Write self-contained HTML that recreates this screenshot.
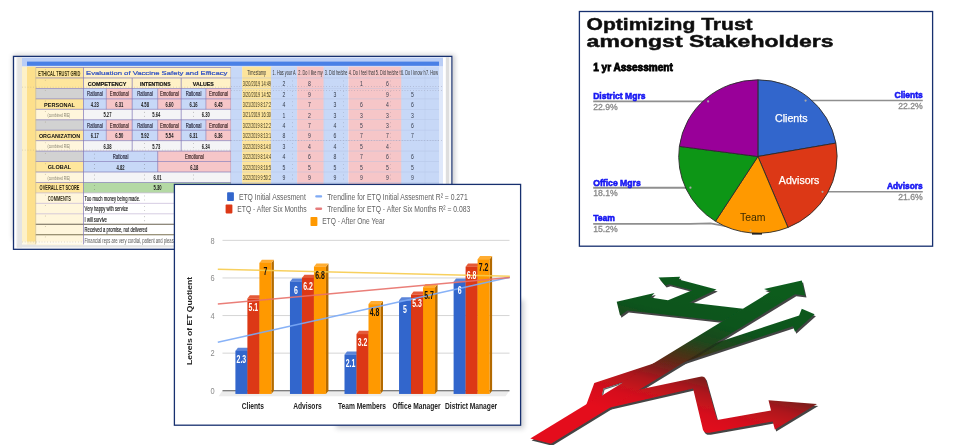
<!DOCTYPE html>
<html><head><meta charset="utf-8"><title>Trust dashboard</title>
<style>
html,body{margin:0;padding:0;background:#fff;}
body{width:980px;height:445px;overflow:hidden;font-family:"Liberation Sans",sans-serif;}
svg{display:block;font-family:"Liberation Sans",sans-serif;}
</style></head><body>
<svg width="980" height="445" viewBox="0 0 980 445">
<defs>
<filter id="b3" x="-5%" y="-5%" width="110%" height="110%"><feGaussianBlur stdDeviation="0.3"/></filter>
<filter id="b5" x="-5%" y="-5%" width="110%" height="110%"><feGaussianBlur stdDeviation="0.5"/></filter>
<filter id="b7" x="-5%" y="-5%" width="110%" height="110%"><feGaussianBlur stdDeviation="0.7"/></filter>
<filter id="sh" x="-10%" y="-10%" width="125%" height="125%"><feGaussianBlur stdDeviation="2.4"/></filter>
<filter id="ash" x="-10%" y="-10%" width="125%" height="125%"><feGaussianBlur stdDeviation="0.65"/></filter>
</defs>
<rect x="13.0" y="54.9" width="441.8" height="184.9" fill="#3a4050" opacity="0.27" filter="url(#sh)"/>
<rect x="13.50" y="56.40" width="438.30" height="192.90" fill="#ffffff" stroke="#17306f" stroke-width="1.3"/>
<g filter="url(#b5)">
<linearGradient id="gl" x1="0" x2="1"><stop offset="0" stop-color="#fff"/><stop offset="0.55" stop-color="#e9e9e9"/><stop offset="1" stop-color="#f6f6f6"/></linearGradient>
<rect x="17.00" y="57.20" width="5.00" height="190.30" fill="#e3e3e3" />
<rect x="16.20" y="57.20" width="1.20" height="190.30" fill="#f0f0f0" />
<rect x="445.80" y="57.20" width="3.40" height="190.30" fill="#dedede" />
<rect x="449.00" y="57.20" width="2.20" height="191.40" fill="#f4f4f4" />
<rect x="17.00" y="244.30" width="432.00" height="3.20" fill="#e3e3e3" />
<rect x="22.00" y="57.60" width="421.00" height="9.00" fill="#b9cdf6" />
<rect x="27.00" y="61.60" width="412.00" height="4.20" fill="#4a80e6" />
<rect x="22.00" y="66.60" width="5.00" height="177.70" fill="#fdf1c7" />
<rect x="27.00" y="66.60" width="8.70" height="177.70" fill="#fde08c" />
<rect x="35.70" y="66.60" width="195.40" height="2.00" fill="#fff1c6" />
<rect x="35.70" y="67.50" width="47.80" height="10.45" fill="#fee69c" />
<rect x="83.50" y="67.50" width="147.60" height="10.45" fill="#fff1c6" />
<rect x="35.70" y="77.95" width="47.80" height="10.45" fill="#fee69c" />
<rect x="83.50" y="77.95" width="147.60" height="10.45" fill="#fff1c6" />
<rect x="35.70" y="88.40" width="47.80" height="10.45" fill="#d2d2d2" />
<rect x="83.50" y="88.40" width="22.80" height="10.45" fill="#c7d8f7" />
<rect x="106.30" y="88.40" width="25.90" height="10.45" fill="#f6c6c8" />
<rect x="132.20" y="88.40" width="25.50" height="10.45" fill="#c7d8f7" />
<rect x="157.70" y="88.40" width="23.50" height="10.45" fill="#f6c6c8" />
<rect x="181.20" y="88.40" width="24.70" height="10.45" fill="#c7d8f7" />
<rect x="205.90" y="88.40" width="25.20" height="10.45" fill="#f6c6c8" />
<rect x="35.70" y="119.75" width="47.80" height="10.45" fill="#d2d2d2" />
<rect x="83.50" y="119.75" width="22.80" height="10.45" fill="#c7d8f7" />
<rect x="106.30" y="119.75" width="25.90" height="10.45" fill="#f6c6c8" />
<rect x="132.20" y="119.75" width="25.50" height="10.45" fill="#c7d8f7" />
<rect x="157.70" y="119.75" width="23.50" height="10.45" fill="#f6c6c8" />
<rect x="181.20" y="119.75" width="24.70" height="10.45" fill="#c7d8f7" />
<rect x="205.90" y="119.75" width="25.20" height="10.45" fill="#f6c6c8" />
<rect x="35.70" y="98.85" width="47.80" height="10.45" fill="#fee69c" />
<rect x="83.50" y="98.85" width="22.80" height="10.45" fill="#c7d8f7" />
<rect x="106.30" y="98.85" width="25.90" height="10.45" fill="#f6c6c8" />
<rect x="132.20" y="98.85" width="25.50" height="10.45" fill="#c7d8f7" />
<rect x="157.70" y="98.85" width="23.50" height="10.45" fill="#f6c6c8" />
<rect x="181.20" y="98.85" width="24.70" height="10.45" fill="#c7d8f7" />
<rect x="205.90" y="98.85" width="25.20" height="10.45" fill="#f6c6c8" />
<rect x="35.70" y="130.20" width="47.80" height="10.45" fill="#fee69c" />
<rect x="83.50" y="130.20" width="22.80" height="10.45" fill="#c7d8f7" />
<rect x="106.30" y="130.20" width="25.90" height="10.45" fill="#f6c6c8" />
<rect x="132.20" y="130.20" width="25.50" height="10.45" fill="#c7d8f7" />
<rect x="157.70" y="130.20" width="23.50" height="10.45" fill="#f6c6c8" />
<rect x="181.20" y="130.20" width="24.70" height="10.45" fill="#c7d8f7" />
<rect x="205.90" y="130.20" width="25.20" height="10.45" fill="#f6c6c8" />
<rect x="35.70" y="109.30" width="47.80" height="10.45" fill="#fff6dc" />
<rect x="83.50" y="109.30" width="147.60" height="10.45" fill="#f4f4f6" />
<rect x="35.70" y="140.65" width="47.80" height="10.45" fill="#fff6dc" />
<rect x="83.50" y="140.65" width="147.60" height="10.45" fill="#f4f4f6" />
<rect x="35.70" y="172.00" width="47.80" height="10.45" fill="#fff6dc" />
<rect x="83.50" y="172.00" width="147.60" height="10.45" fill="#f4f4f6" />
<rect x="35.70" y="151.10" width="47.80" height="10.45" fill="#d2d2d2" />
<rect x="83.50" y="151.10" width="74.20" height="10.45" fill="#c7d8f7" />
<rect x="157.70" y="151.10" width="73.40" height="10.45" fill="#f6c6c8" />
<rect x="35.70" y="161.55" width="47.80" height="10.45" fill="#fee69c" />
<rect x="83.50" y="161.55" width="74.20" height="10.45" fill="#c7d8f7" />
<rect x="157.70" y="161.55" width="73.40" height="10.45" fill="#f6c6c8" />
<rect x="35.70" y="182.45" width="47.80" height="10.45" fill="#fee69c" />
<rect x="83.50" y="182.45" width="147.60" height="10.45" fill="#b4d9a4" />
<rect x="35.70" y="192.90" width="47.80" height="10.45" fill="#fff6dc" />
<rect x="83.50" y="192.90" width="147.60" height="10.45" fill="#ffffff" />
<rect x="35.70" y="203.35" width="47.80" height="10.45" fill="#fff6dc" />
<rect x="83.50" y="203.35" width="147.60" height="10.45" fill="#ffffff" />
<rect x="35.70" y="213.80" width="47.80" height="10.45" fill="#fff6dc" />
<rect x="83.50" y="213.80" width="147.60" height="10.45" fill="#ffffff" />
<rect x="35.70" y="224.25" width="47.80" height="10.45" fill="#fff6dc" />
<rect x="83.50" y="224.25" width="147.60" height="10.45" fill="#ffffff" />
<rect x="35.70" y="234.70" width="47.80" height="10.45" fill="#fff6dc" />
<rect x="83.50" y="234.70" width="147.60" height="10.45" fill="#ffffff" />
<rect x="22.00" y="241.50" width="421.00" height="2.80" fill="#ffffff" opacity="0.55"/>
<line x1="35.70" y1="67.50" x2="231.10" y2="67.50" stroke="#7f76b6" stroke-width="0.8" opacity="0.85"/>
<line x1="35.70" y1="77.95" x2="231.10" y2="77.95" stroke="#7f76b6" stroke-width="0.8" opacity="0.85"/>
<line x1="35.70" y1="88.40" x2="231.10" y2="88.40" stroke="#7f76b6" stroke-width="0.8" opacity="0.85"/>
<line x1="35.70" y1="98.85" x2="231.10" y2="98.85" stroke="#7f76b6" stroke-width="0.8" opacity="0.85"/>
<line x1="35.70" y1="109.30" x2="231.10" y2="109.30" stroke="#7f76b6" stroke-width="0.8" opacity="0.85"/>
<line x1="35.70" y1="119.75" x2="231.10" y2="119.75" stroke="#7f76b6" stroke-width="0.8" opacity="0.85"/>
<line x1="35.70" y1="130.20" x2="231.10" y2="130.20" stroke="#7f76b6" stroke-width="0.8" opacity="0.85"/>
<line x1="35.70" y1="140.65" x2="231.10" y2="140.65" stroke="#7f76b6" stroke-width="0.8" opacity="0.85"/>
<line x1="35.70" y1="151.10" x2="231.10" y2="151.10" stroke="#7f76b6" stroke-width="0.8" opacity="0.85"/>
<line x1="35.70" y1="161.55" x2="231.10" y2="161.55" stroke="#7f76b6" stroke-width="0.8" opacity="0.85"/>
<line x1="35.70" y1="172.00" x2="231.10" y2="172.00" stroke="#7f76b6" stroke-width="0.8" opacity="0.85"/>
<line x1="35.70" y1="182.45" x2="231.10" y2="182.45" stroke="#7f76b6" stroke-width="0.8" opacity="0.85"/>
<line x1="35.70" y1="192.90" x2="231.10" y2="192.90" stroke="#b9a9cf" stroke-width="0.6" />
<line x1="35.70" y1="203.35" x2="231.10" y2="203.35" stroke="#b9a9cf" stroke-width="0.6" />
<line x1="35.70" y1="213.80" x2="231.10" y2="213.80" stroke="#b9a9cf" stroke-width="0.6" />
<line x1="35.70" y1="224.25" x2="175.00" y2="224.25" stroke="#6a6250" stroke-width="1.1" />
<line x1="35.70" y1="234.70" x2="175.00" y2="234.70" stroke="#7a7050" stroke-width="1.1" />
<line x1="35.70" y1="67.50" x2="35.70" y2="244.30" stroke="#c8b47a" stroke-width="0.6" />
<line x1="83.50" y1="67.50" x2="83.50" y2="244.30" stroke="#7f76b6" stroke-width="0.7" />
<line x1="132.20" y1="77.95" x2="132.20" y2="151.10" stroke="#7f76b6" stroke-width="0.7" />
<line x1="181.20" y1="77.95" x2="181.20" y2="151.10" stroke="#7f76b6" stroke-width="0.7" />
<line x1="106.30" y1="88.40" x2="106.30" y2="98.85" stroke="#7f76b6" stroke-width="0.6" />
<line x1="106.30" y1="98.85" x2="106.30" y2="109.30" stroke="#7f76b6" stroke-width="0.6" />
<line x1="106.30" y1="119.75" x2="106.30" y2="130.20" stroke="#7f76b6" stroke-width="0.6" />
<line x1="106.30" y1="130.20" x2="106.30" y2="140.65" stroke="#7f76b6" stroke-width="0.6" />
<line x1="157.70" y1="88.40" x2="157.70" y2="98.85" stroke="#7f76b6" stroke-width="0.6" />
<line x1="157.70" y1="98.85" x2="157.70" y2="109.30" stroke="#7f76b6" stroke-width="0.6" />
<line x1="157.70" y1="119.75" x2="157.70" y2="130.20" stroke="#7f76b6" stroke-width="0.6" />
<line x1="157.70" y1="130.20" x2="157.70" y2="140.65" stroke="#7f76b6" stroke-width="0.6" />
<line x1="205.90" y1="88.40" x2="205.90" y2="98.85" stroke="#7f76b6" stroke-width="0.6" />
<line x1="205.90" y1="98.85" x2="205.90" y2="109.30" stroke="#7f76b6" stroke-width="0.6" />
<line x1="205.90" y1="119.75" x2="205.90" y2="130.20" stroke="#7f76b6" stroke-width="0.6" />
<line x1="205.90" y1="130.20" x2="205.90" y2="140.65" stroke="#7f76b6" stroke-width="0.6" />
<line x1="157.70" y1="151.10" x2="157.70" y2="172.00" stroke="#7f76b6" stroke-width="0.7" />
<line x1="231.10" y1="67.50" x2="231.10" y2="192.90" stroke="#7f76b6" stroke-width="0.7" />
<line x1="22.00" y1="87.20" x2="231.00" y2="87.20" stroke="#b0a890" stroke-width="0.6" stroke-dasharray="0.8 2" opacity="0.8"/>
<line x1="22.00" y1="150.10" x2="231.00" y2="150.10" stroke="#b0a890" stroke-width="0.6" stroke-dasharray="0.8 2" opacity="0.8"/>
<line x1="22.00" y1="242.00" x2="231.00" y2="242.00" stroke="#b0a890" stroke-width="0.6" stroke-dasharray="0.8 2" opacity="0.8"/>
<circle cx="45.3" cy="69.70" r="0.45" fill="#8a8060" opacity="0.7"/>
<circle cx="45.3" cy="80.15" r="0.45" fill="#8a8060" opacity="0.7"/>
<circle cx="45.3" cy="90.60" r="0.45" fill="#8a8060" opacity="0.7"/>
<circle cx="45.3" cy="101.05" r="0.45" fill="#8a8060" opacity="0.7"/>
<circle cx="45.3" cy="111.50" r="0.45" fill="#8a8060" opacity="0.7"/>
<circle cx="45.3" cy="121.95" r="0.45" fill="#8a8060" opacity="0.7"/>
<circle cx="45.3" cy="132.40" r="0.45" fill="#8a8060" opacity="0.7"/>
<circle cx="45.3" cy="142.85" r="0.45" fill="#8a8060" opacity="0.7"/>
<circle cx="45.3" cy="153.30" r="0.45" fill="#8a8060" opacity="0.7"/>
<circle cx="45.3" cy="163.75" r="0.45" fill="#8a8060" opacity="0.7"/>
<circle cx="45.3" cy="174.20" r="0.45" fill="#8a8060" opacity="0.7"/>
<circle cx="45.3" cy="184.65" r="0.45" fill="#8a8060" opacity="0.7"/>
<circle cx="45.3" cy="195.10" r="0.45" fill="#8a8060" opacity="0.7"/>
<circle cx="45.3" cy="205.55" r="0.45" fill="#8a8060" opacity="0.7"/>
<circle cx="45.3" cy="216.00" r="0.45" fill="#8a8060" opacity="0.7"/>
<circle cx="45.3" cy="226.45" r="0.45" fill="#8a8060" opacity="0.7"/>
<circle cx="45.3" cy="236.90" r="0.45" fill="#8a8060" opacity="0.7"/>
<circle cx="144.4" cy="112.30" r="0.45" fill="#666" opacity="0.75"/>
<circle cx="144.4" cy="116.30" r="0.45" fill="#666" opacity="0.75"/>
<circle cx="193.5" cy="112.30" r="0.45" fill="#666" opacity="0.75"/>
<circle cx="193.5" cy="116.30" r="0.45" fill="#666" opacity="0.75"/>
<circle cx="144.4" cy="143.65" r="0.45" fill="#666" opacity="0.75"/>
<circle cx="144.4" cy="147.65" r="0.45" fill="#666" opacity="0.75"/>
<circle cx="193.5" cy="143.65" r="0.45" fill="#666" opacity="0.75"/>
<circle cx="193.5" cy="147.65" r="0.45" fill="#666" opacity="0.75"/>
<circle cx="94.4" cy="154.10" r="0.45" fill="#666" opacity="0.75"/>
<circle cx="94.4" cy="158.10" r="0.45" fill="#666" opacity="0.75"/>
<circle cx="193.5" cy="154.10" r="0.45" fill="#666" opacity="0.75"/>
<circle cx="193.5" cy="158.10" r="0.45" fill="#666" opacity="0.75"/>
<circle cx="144.4" cy="154.10" r="0.45" fill="#666" opacity="0.75"/>
<circle cx="144.4" cy="158.10" r="0.45" fill="#666" opacity="0.75"/>
<circle cx="94.4" cy="164.55" r="0.45" fill="#666" opacity="0.75"/>
<circle cx="94.4" cy="168.55" r="0.45" fill="#666" opacity="0.75"/>
<circle cx="193.5" cy="164.55" r="0.45" fill="#666" opacity="0.75"/>
<circle cx="193.5" cy="168.55" r="0.45" fill="#666" opacity="0.75"/>
<circle cx="144.4" cy="164.55" r="0.45" fill="#666" opacity="0.75"/>
<circle cx="144.4" cy="168.55" r="0.45" fill="#666" opacity="0.75"/>
<circle cx="94.4" cy="175.00" r="0.45" fill="#666" opacity="0.75"/>
<circle cx="94.4" cy="179.00" r="0.45" fill="#666" opacity="0.75"/>
<circle cx="193.5" cy="175.00" r="0.45" fill="#666" opacity="0.75"/>
<circle cx="193.5" cy="179.00" r="0.45" fill="#666" opacity="0.75"/>
<circle cx="144.4" cy="175.00" r="0.45" fill="#666" opacity="0.75"/>
<circle cx="144.4" cy="179.00" r="0.45" fill="#666" opacity="0.75"/>
<circle cx="94.4" cy="185.45" r="0.45" fill="#666" opacity="0.75"/>
<circle cx="94.4" cy="189.45" r="0.45" fill="#666" opacity="0.75"/>
<circle cx="193.5" cy="185.45" r="0.45" fill="#666" opacity="0.75"/>
<circle cx="193.5" cy="189.45" r="0.45" fill="#666" opacity="0.75"/>
<circle cx="144.6" cy="195.90" r="0.45" fill="#666" opacity="0.75"/>
<circle cx="144.6" cy="199.90" r="0.45" fill="#666" opacity="0.75"/>
<circle cx="144.6" cy="206.35" r="0.45" fill="#666" opacity="0.75"/>
<circle cx="144.6" cy="210.35" r="0.45" fill="#666" opacity="0.75"/>
<circle cx="144.6" cy="216.80" r="0.45" fill="#666" opacity="0.75"/>
<circle cx="144.6" cy="220.80" r="0.45" fill="#666" opacity="0.75"/>
<text x="38.30" y="75.80" font-size="7" fill="#3a3210" font-weight="bold" text-anchor="start" textLength="42" lengthAdjust="spacingAndGlyphs" >ETHICAL TRUST GRID</text>
<text x="86.00" y="74.80" font-size="5.9" fill="#2d4fc4" font-weight="normal" text-anchor="start" textLength="141.4" lengthAdjust="spacingAndGlyphs" stroke="#2d4fc4" stroke-width="0.2">Evaluation of Vaccine Safety and Efficacy</text>
<text x="107.10" y="85.75" font-size="5.2" fill="#111" font-weight="bold" text-anchor="middle" textLength="38.8" lengthAdjust="spacingAndGlyphs" stroke="#111" stroke-width="0.15">COMPETENCY</text>
<text x="155.30" y="85.75" font-size="5.2" fill="#111" font-weight="bold" text-anchor="middle" textLength="30.4" lengthAdjust="spacingAndGlyphs" stroke="#111" stroke-width="0.15">INTENTIONS</text>
<text x="203.30" y="85.75" font-size="5.2" fill="#111" font-weight="bold" text-anchor="middle" textLength="21" lengthAdjust="spacingAndGlyphs" stroke="#111" stroke-width="0.15">VALUES</text>
<text transform="translate(94.90,96.40) scale(0.6,1)" font-size="7.1" fill="#24243a" font-weight="normal" text-anchor="middle" stroke="#24243a" stroke-width="0.18">Rational</text>
<text transform="translate(119.25,96.40) scale(0.6,1)" font-size="7.1" fill="#3a2424" font-weight="normal" text-anchor="middle" stroke="#3a2424" stroke-width="0.18">Emotional</text>
<text transform="translate(144.95,96.40) scale(0.6,1)" font-size="7.1" fill="#24243a" font-weight="normal" text-anchor="middle" stroke="#24243a" stroke-width="0.18">Rational</text>
<text transform="translate(169.45,96.40) scale(0.6,1)" font-size="7.1" fill="#3a2424" font-weight="normal" text-anchor="middle" stroke="#3a2424" stroke-width="0.18">Emotional</text>
<text transform="translate(193.55,96.40) scale(0.6,1)" font-size="7.1" fill="#24243a" font-weight="normal" text-anchor="middle" stroke="#24243a" stroke-width="0.18">Rational</text>
<text transform="translate(218.50,96.40) scale(0.6,1)" font-size="7.1" fill="#3a2424" font-weight="normal" text-anchor="middle" stroke="#3a2424" stroke-width="0.18">Emotional</text>
<text transform="translate(94.90,127.75) scale(0.6,1)" font-size="7.1" fill="#24243a" font-weight="normal" text-anchor="middle" stroke="#24243a" stroke-width="0.18">Rational</text>
<text transform="translate(119.25,127.75) scale(0.6,1)" font-size="7.1" fill="#3a2424" font-weight="normal" text-anchor="middle" stroke="#3a2424" stroke-width="0.18">Emotional</text>
<text transform="translate(144.95,127.75) scale(0.6,1)" font-size="7.1" fill="#24243a" font-weight="normal" text-anchor="middle" stroke="#24243a" stroke-width="0.18">Rational</text>
<text transform="translate(169.45,127.75) scale(0.6,1)" font-size="7.1" fill="#3a2424" font-weight="normal" text-anchor="middle" stroke="#3a2424" stroke-width="0.18">Emotional</text>
<text transform="translate(193.55,127.75) scale(0.6,1)" font-size="7.1" fill="#24243a" font-weight="normal" text-anchor="middle" stroke="#24243a" stroke-width="0.18">Rational</text>
<text transform="translate(218.50,127.75) scale(0.6,1)" font-size="7.1" fill="#3a2424" font-weight="normal" text-anchor="middle" stroke="#3a2424" stroke-width="0.18">Emotional</text>
<text transform="translate(59.50,106.65) scale(1.03,1)" font-size="5.4" fill="#111" font-weight="bold" text-anchor="middle" >PERSONAL</text>
<text transform="translate(59.50,138.00) scale(1.0,1)" font-size="5.4" fill="#111" font-weight="bold" text-anchor="middle" >ORGANIZATION</text>
<text transform="translate(59.50,169.35) scale(1.03,1)" font-size="5.4" fill="#111" font-weight="bold" text-anchor="middle" >GLOBAL</text>
<text transform="translate(39.60,190.45) scale(0.595,1)" font-size="6.6" fill="#2a2410" font-weight="bold" text-anchor="start" >OVERALL ET SCORE</text>
<text transform="translate(59.30,200.90) scale(0.6,1)" font-size="6.6" fill="#3a3420" font-weight="bold" text-anchor="middle" >COMMENTS</text>
<text x="47.60" y="117.10" font-size="5.8" fill="#85816f" font-weight="normal" text-anchor="start" textLength="22.6" lengthAdjust="spacingAndGlyphs" >(combined R/E)</text>
<text x="47.60" y="148.45" font-size="5.8" fill="#85816f" font-weight="normal" text-anchor="start" textLength="22.6" lengthAdjust="spacingAndGlyphs" >(combined R/E)</text>
<text x="47.60" y="179.80" font-size="5.8" fill="#85816f" font-weight="normal" text-anchor="start" textLength="22.6" lengthAdjust="spacingAndGlyphs" >(combined R/E)</text>
<text transform="translate(94.90,106.85) scale(0.56,1)" font-size="7.4" fill="#1a1a1a" font-weight="bold" text-anchor="middle" >4.23</text>
<text transform="translate(94.90,138.20) scale(0.56,1)" font-size="7.4" fill="#1a1a1a" font-weight="bold" text-anchor="middle" >6.17</text>
<text transform="translate(119.25,106.85) scale(0.56,1)" font-size="7.4" fill="#1a1a1a" font-weight="bold" text-anchor="middle" >6.31</text>
<text transform="translate(119.25,138.20) scale(0.56,1)" font-size="7.4" fill="#1a1a1a" font-weight="bold" text-anchor="middle" >6.50</text>
<text transform="translate(144.95,106.85) scale(0.56,1)" font-size="7.4" fill="#1a1a1a" font-weight="bold" text-anchor="middle" >4.58</text>
<text transform="translate(144.95,138.20) scale(0.56,1)" font-size="7.4" fill="#1a1a1a" font-weight="bold" text-anchor="middle" >5.92</text>
<text transform="translate(169.45,106.85) scale(0.56,1)" font-size="7.4" fill="#1a1a1a" font-weight="bold" text-anchor="middle" >6.60</text>
<text transform="translate(169.45,138.20) scale(0.56,1)" font-size="7.4" fill="#1a1a1a" font-weight="bold" text-anchor="middle" >5.54</text>
<text transform="translate(193.55,106.85) scale(0.56,1)" font-size="7.4" fill="#1a1a1a" font-weight="bold" text-anchor="middle" >6.16</text>
<text transform="translate(193.55,138.20) scale(0.56,1)" font-size="7.4" fill="#1a1a1a" font-weight="bold" text-anchor="middle" >6.31</text>
<text transform="translate(218.50,106.85) scale(0.56,1)" font-size="7.4" fill="#1a1a1a" font-weight="bold" text-anchor="middle" >6.45</text>
<text transform="translate(218.50,138.20) scale(0.56,1)" font-size="7.4" fill="#1a1a1a" font-weight="bold" text-anchor="middle" >6.36</text>
<text transform="translate(107.45,117.30) scale(0.56,1)" font-size="7.4" fill="#1a1a1a" font-weight="bold" text-anchor="middle" >5.27</text>
<text transform="translate(156.30,117.30) scale(0.56,1)" font-size="7.4" fill="#1a1a1a" font-weight="bold" text-anchor="middle" >5.64</text>
<text transform="translate(205.75,117.30) scale(0.56,1)" font-size="7.4" fill="#1a1a1a" font-weight="bold" text-anchor="middle" >6.30</text>
<text transform="translate(107.45,148.65) scale(0.56,1)" font-size="7.4" fill="#1a1a1a" font-weight="bold" text-anchor="middle" >6.38</text>
<text transform="translate(156.30,148.65) scale(0.56,1)" font-size="7.4" fill="#1a1a1a" font-weight="bold" text-anchor="middle" >5.73</text>
<text transform="translate(205.75,148.65) scale(0.56,1)" font-size="7.4" fill="#1a1a1a" font-weight="bold" text-anchor="middle" >6.34</text>
<text transform="translate(120.60,159.10) scale(0.6,1)" font-size="7.1" fill="#24243a" font-weight="normal" text-anchor="middle" stroke="#24243a" stroke-width="0.18">Rational</text>
<text transform="translate(194.40,159.10) scale(0.6,1)" font-size="7.1" fill="#3a2424" font-weight="normal" text-anchor="middle" stroke="#3a2424" stroke-width="0.18">Emotional</text>
<text transform="translate(120.60,169.55) scale(0.56,1)" font-size="7.4" fill="#1a1a1a" font-weight="bold" text-anchor="middle" >4.82</text>
<text transform="translate(194.40,169.55) scale(0.56,1)" font-size="7.4" fill="#1a1a1a" font-weight="bold" text-anchor="middle" >6.18</text>
<text transform="translate(157.50,180.00) scale(0.56,1)" font-size="7.4" fill="#1a1a1a" font-weight="bold" text-anchor="middle" >6.01</text>
<text transform="translate(157.50,190.45) scale(0.56,1)" font-size="7.4" fill="#1a1a1a" font-weight="bold" text-anchor="middle" >5.30</text>
<text transform="translate(84.60,200.90) scale(0.61,1)" font-size="6.8" fill="#111" font-weight="normal" text-anchor="start" stroke="#222" stroke-width="0.15">Too much money being made.</text>
<text transform="translate(84.60,211.35) scale(0.61,1)" font-size="6.8" fill="#111" font-weight="normal" text-anchor="start" stroke="#222" stroke-width="0.15">Very happy with service</text>
<text transform="translate(84.60,221.80) scale(0.61,1)" font-size="6.8" fill="#111" font-weight="normal" text-anchor="start" stroke="#222" stroke-width="0.15">I will survive</text>
<text transform="translate(84.60,232.25) scale(0.61,1)" font-size="6.8" fill="#111" font-weight="normal" text-anchor="start" stroke="#222" stroke-width="0.15">Received a promise, not delivered</text>
<text transform="translate(84.60,242.70) scale(0.61,1)" font-size="6.8" fill="#5a5a5a" font-weight="normal" text-anchor="start" >Financial reps are very cordial, patient and pleas</text>
<rect x="231.10" y="66.60" width="11.10" height="177.70" fill="#c7d8f7" />
<rect x="242.20" y="66.60" width="29.00" height="177.70" fill="#fde49b" />
<rect x="271.20" y="66.60" width="25.90" height="177.70" fill="#c7d8f7" />
<rect x="297.10" y="66.60" width="26.70" height="177.70" fill="#f6c6c8" />
<rect x="323.80" y="66.60" width="24.70" height="177.70" fill="#c7d8f7" />
<rect x="348.50" y="66.60" width="26.50" height="177.70" fill="#f6c6c8" />
<rect x="375.00" y="66.60" width="26.50" height="177.70" fill="#f6c6c8" />
<rect x="401.50" y="66.60" width="23.50" height="177.70" fill="#c7d8f7" />
<rect x="425.00" y="66.60" width="14.00" height="177.70" fill="#c7d8f7" />
<rect x="439.00" y="66.60" width="4.00" height="177.70" fill="#dfe8fa" />
<line x1="231.10" y1="77.95" x2="439.00" y2="77.95" stroke="#aebfe0" stroke-width="0.5" opacity="0.8"/>
<line x1="231.10" y1="88.40" x2="439.00" y2="88.40" stroke="#aebfe0" stroke-width="0.5" opacity="0.8"/>
<line x1="231.10" y1="98.85" x2="439.00" y2="98.85" stroke="#aebfe0" stroke-width="0.5" opacity="0.8"/>
<line x1="231.10" y1="109.30" x2="439.00" y2="109.30" stroke="#aebfe0" stroke-width="0.5" opacity="0.8"/>
<line x1="231.10" y1="119.75" x2="439.00" y2="119.75" stroke="#aebfe0" stroke-width="0.5" opacity="0.8"/>
<line x1="231.10" y1="130.20" x2="439.00" y2="130.20" stroke="#aebfe0" stroke-width="0.5" opacity="0.8"/>
<line x1="231.10" y1="140.65" x2="439.00" y2="140.65" stroke="#aebfe0" stroke-width="0.5" opacity="0.8"/>
<line x1="231.10" y1="151.10" x2="439.00" y2="151.10" stroke="#aebfe0" stroke-width="0.5" opacity="0.8"/>
<line x1="231.10" y1="161.55" x2="439.00" y2="161.55" stroke="#aebfe0" stroke-width="0.5" opacity="0.8"/>
<line x1="231.10" y1="172.00" x2="439.00" y2="172.00" stroke="#aebfe0" stroke-width="0.5" opacity="0.8"/>
<line x1="231.10" y1="182.45" x2="439.00" y2="182.45" stroke="#aebfe0" stroke-width="0.5" opacity="0.8"/>
<line x1="231.00" y1="86.60" x2="443.00" y2="86.60" stroke="#8a8aa0" stroke-width="0.6" stroke-dasharray="0.8 2" opacity="0.8"/>
<line x1="231.00" y1="90.60" x2="443.00" y2="90.60" stroke="#8a8aa0" stroke-width="0.6" stroke-dasharray="0.8 2" opacity="0.8"/>
<line x1="231.00" y1="140.40" x2="443.00" y2="140.40" stroke="#8a8aa0" stroke-width="0.6" stroke-dasharray="0.8 2" opacity="0.8"/>
<line x1="271.20" y1="67.50" x2="271.20" y2="244.30" stroke="#b4c4e4" stroke-width="0.5" opacity="0.7"/>
<line x1="323.80" y1="67.50" x2="323.80" y2="244.30" stroke="#b4c4e4" stroke-width="0.5" opacity="0.7"/>
<line x1="401.50" y1="67.50" x2="401.50" y2="244.30" stroke="#b4c4e4" stroke-width="0.5" opacity="0.7"/>
<line x1="425.00" y1="67.50" x2="425.00" y2="244.30" stroke="#b4c4e4" stroke-width="0.5" opacity="0.7"/>
<text transform="translate(256.70,75.20) scale(0.535,1)" font-size="7.2" fill="#333" font-weight="normal" text-anchor="middle" >Timestamp</text>
<text transform="translate(284.15,75.20) scale(0.535,1)" font-size="7.2" fill="#333" font-weight="normal" text-anchor="middle" >1. Has your A</text>
<text transform="translate(310.45,75.20) scale(0.535,1)" font-size="7.2" fill="#333" font-weight="normal" text-anchor="middle" >2. Do I like my</text>
<text transform="translate(336.15,75.20) scale(0.535,1)" font-size="7.2" fill="#333" font-weight="normal" text-anchor="middle" >3. Did he/she</text>
<text transform="translate(361.75,75.20) scale(0.535,1)" font-size="7.2" fill="#333" font-weight="normal" text-anchor="middle" >4. Do I feel that</text>
<text transform="translate(388.25,75.20) scale(0.535,1)" font-size="7.2" fill="#333" font-weight="normal" text-anchor="middle" >5. Did he/she t</text>
<text transform="translate(413.25,75.20) scale(0.535,1)" font-size="7.2" fill="#333" font-weight="normal" text-anchor="middle" >6. Do I know h</text>
<text transform="translate(432.00,75.20) scale(0.535,1)" font-size="7.2" fill="#333" font-weight="normal" text-anchor="middle" >7. How</text>
<text x="242.80" y="86.05" font-size="7.3" fill="#3a3520" font-weight="normal" text-anchor="start" textLength="28.2" lengthAdjust="spacingAndGlyphs" >3/20/2019 14:49</text>
<text transform="translate(284.00,86.15) scale(0.68,1)" font-size="7.5" fill="#333a4a" font-weight="normal" text-anchor="middle" >2</text>
<text transform="translate(309.50,86.15) scale(0.68,1)" font-size="7.5" fill="#333a4a" font-weight="normal" text-anchor="middle" >8</text>
<text transform="translate(361.50,86.15) scale(0.68,1)" font-size="7.5" fill="#333a4a" font-weight="normal" text-anchor="middle" >1</text>
<text transform="translate(387.50,86.15) scale(0.68,1)" font-size="7.5" fill="#333a4a" font-weight="normal" text-anchor="middle" >6</text>
<circle cx="292.6" cy="80.95" r="0.4" fill="#667" opacity="0.6"/>
<circle cx="292.6" cy="84.95" r="0.4" fill="#667" opacity="0.6"/>
<circle cx="343.5" cy="80.95" r="0.4" fill="#667" opacity="0.6"/>
<circle cx="343.5" cy="84.95" r="0.4" fill="#667" opacity="0.6"/>
<circle cx="390.5" cy="80.95" r="0.4" fill="#667" opacity="0.6"/>
<circle cx="390.5" cy="84.95" r="0.4" fill="#667" opacity="0.6"/>
<text x="242.80" y="96.50" font-size="7.3" fill="#3a3520" font-weight="normal" text-anchor="start" textLength="28.2" lengthAdjust="spacingAndGlyphs" >3/20/2019 14:52</text>
<text transform="translate(284.00,96.60) scale(0.68,1)" font-size="7.5" fill="#333a4a" font-weight="normal" text-anchor="middle" >2</text>
<text transform="translate(309.50,96.60) scale(0.68,1)" font-size="7.5" fill="#333a4a" font-weight="normal" text-anchor="middle" >9</text>
<text transform="translate(334.80,96.60) scale(0.68,1)" font-size="7.5" fill="#333a4a" font-weight="normal" text-anchor="middle" >3</text>
<text transform="translate(387.50,96.60) scale(0.68,1)" font-size="7.5" fill="#333a4a" font-weight="normal" text-anchor="middle" >9</text>
<text transform="translate(412.50,96.60) scale(0.68,1)" font-size="7.5" fill="#333a4a" font-weight="normal" text-anchor="middle" >5</text>
<circle cx="292.6" cy="91.40" r="0.4" fill="#667" opacity="0.6"/>
<circle cx="292.6" cy="95.40" r="0.4" fill="#667" opacity="0.6"/>
<circle cx="343.5" cy="91.40" r="0.4" fill="#667" opacity="0.6"/>
<circle cx="343.5" cy="95.40" r="0.4" fill="#667" opacity="0.6"/>
<circle cx="390.5" cy="91.40" r="0.4" fill="#667" opacity="0.6"/>
<circle cx="390.5" cy="95.40" r="0.4" fill="#667" opacity="0.6"/>
<text x="242.80" y="106.95" font-size="7.3" fill="#3a3520" font-weight="normal" text-anchor="start" textLength="28.2" lengthAdjust="spacingAndGlyphs" >3/21/2019 8:17:2</text>
<text transform="translate(284.00,107.05) scale(0.68,1)" font-size="7.5" fill="#333a4a" font-weight="normal" text-anchor="middle" >4</text>
<text transform="translate(309.50,107.05) scale(0.68,1)" font-size="7.5" fill="#333a4a" font-weight="normal" text-anchor="middle" >7</text>
<text transform="translate(334.80,107.05) scale(0.68,1)" font-size="7.5" fill="#333a4a" font-weight="normal" text-anchor="middle" >3</text>
<text transform="translate(361.50,107.05) scale(0.68,1)" font-size="7.5" fill="#333a4a" font-weight="normal" text-anchor="middle" >6</text>
<text transform="translate(387.50,107.05) scale(0.68,1)" font-size="7.5" fill="#333a4a" font-weight="normal" text-anchor="middle" >4</text>
<text transform="translate(412.50,107.05) scale(0.68,1)" font-size="7.5" fill="#333a4a" font-weight="normal" text-anchor="middle" >6</text>
<circle cx="292.6" cy="101.85" r="0.4" fill="#667" opacity="0.6"/>
<circle cx="292.6" cy="105.85" r="0.4" fill="#667" opacity="0.6"/>
<circle cx="343.5" cy="101.85" r="0.4" fill="#667" opacity="0.6"/>
<circle cx="343.5" cy="105.85" r="0.4" fill="#667" opacity="0.6"/>
<circle cx="390.5" cy="101.85" r="0.4" fill="#667" opacity="0.6"/>
<circle cx="390.5" cy="105.85" r="0.4" fill="#667" opacity="0.6"/>
<text x="242.80" y="117.40" font-size="7.3" fill="#3a3520" font-weight="normal" text-anchor="start" textLength="28.2" lengthAdjust="spacingAndGlyphs" >3/21/2019 16:30</text>
<text transform="translate(284.00,117.50) scale(0.68,1)" font-size="7.5" fill="#333a4a" font-weight="normal" text-anchor="middle" >1</text>
<text transform="translate(309.50,117.50) scale(0.68,1)" font-size="7.5" fill="#333a4a" font-weight="normal" text-anchor="middle" >2</text>
<text transform="translate(334.80,117.50) scale(0.68,1)" font-size="7.5" fill="#333a4a" font-weight="normal" text-anchor="middle" >3</text>
<text transform="translate(361.50,117.50) scale(0.68,1)" font-size="7.5" fill="#333a4a" font-weight="normal" text-anchor="middle" >3</text>
<text transform="translate(387.50,117.50) scale(0.68,1)" font-size="7.5" fill="#333a4a" font-weight="normal" text-anchor="middle" >3</text>
<text transform="translate(412.50,117.50) scale(0.68,1)" font-size="7.5" fill="#333a4a" font-weight="normal" text-anchor="middle" >3</text>
<circle cx="292.6" cy="112.30" r="0.4" fill="#667" opacity="0.6"/>
<circle cx="292.6" cy="116.30" r="0.4" fill="#667" opacity="0.6"/>
<circle cx="343.5" cy="112.30" r="0.4" fill="#667" opacity="0.6"/>
<circle cx="343.5" cy="116.30" r="0.4" fill="#667" opacity="0.6"/>
<circle cx="390.5" cy="112.30" r="0.4" fill="#667" opacity="0.6"/>
<circle cx="390.5" cy="116.30" r="0.4" fill="#667" opacity="0.6"/>
<text x="242.80" y="127.85" font-size="7.3" fill="#3a3520" font-weight="normal" text-anchor="start" textLength="28.2" lengthAdjust="spacingAndGlyphs" >3/22/2019 8:12:2</text>
<text transform="translate(284.00,127.95) scale(0.68,1)" font-size="7.5" fill="#333a4a" font-weight="normal" text-anchor="middle" >4</text>
<text transform="translate(309.50,127.95) scale(0.68,1)" font-size="7.5" fill="#333a4a" font-weight="normal" text-anchor="middle" >7</text>
<text transform="translate(334.80,127.95) scale(0.68,1)" font-size="7.5" fill="#333a4a" font-weight="normal" text-anchor="middle" >4</text>
<text transform="translate(361.50,127.95) scale(0.68,1)" font-size="7.5" fill="#333a4a" font-weight="normal" text-anchor="middle" >5</text>
<text transform="translate(387.50,127.95) scale(0.68,1)" font-size="7.5" fill="#333a4a" font-weight="normal" text-anchor="middle" >3</text>
<text transform="translate(412.50,127.95) scale(0.68,1)" font-size="7.5" fill="#333a4a" font-weight="normal" text-anchor="middle" >6</text>
<circle cx="292.6" cy="122.75" r="0.4" fill="#667" opacity="0.6"/>
<circle cx="292.6" cy="126.75" r="0.4" fill="#667" opacity="0.6"/>
<circle cx="343.5" cy="122.75" r="0.4" fill="#667" opacity="0.6"/>
<circle cx="343.5" cy="126.75" r="0.4" fill="#667" opacity="0.6"/>
<circle cx="390.5" cy="122.75" r="0.4" fill="#667" opacity="0.6"/>
<circle cx="390.5" cy="126.75" r="0.4" fill="#667" opacity="0.6"/>
<text x="242.80" y="138.30" font-size="7.3" fill="#3a3520" font-weight="normal" text-anchor="start" textLength="28.2" lengthAdjust="spacingAndGlyphs" >3/22/2019 8:13:1</text>
<text transform="translate(284.00,138.40) scale(0.68,1)" font-size="7.5" fill="#333a4a" font-weight="normal" text-anchor="middle" >8</text>
<text transform="translate(309.50,138.40) scale(0.68,1)" font-size="7.5" fill="#333a4a" font-weight="normal" text-anchor="middle" >9</text>
<text transform="translate(334.80,138.40) scale(0.68,1)" font-size="7.5" fill="#333a4a" font-weight="normal" text-anchor="middle" >6</text>
<text transform="translate(361.50,138.40) scale(0.68,1)" font-size="7.5" fill="#333a4a" font-weight="normal" text-anchor="middle" >7</text>
<text transform="translate(387.50,138.40) scale(0.68,1)" font-size="7.5" fill="#333a4a" font-weight="normal" text-anchor="middle" >7</text>
<text transform="translate(412.50,138.40) scale(0.68,1)" font-size="7.5" fill="#333a4a" font-weight="normal" text-anchor="middle" >7</text>
<circle cx="292.6" cy="133.20" r="0.4" fill="#667" opacity="0.6"/>
<circle cx="292.6" cy="137.20" r="0.4" fill="#667" opacity="0.6"/>
<circle cx="343.5" cy="133.20" r="0.4" fill="#667" opacity="0.6"/>
<circle cx="343.5" cy="137.20" r="0.4" fill="#667" opacity="0.6"/>
<circle cx="390.5" cy="133.20" r="0.4" fill="#667" opacity="0.6"/>
<circle cx="390.5" cy="137.20" r="0.4" fill="#667" opacity="0.6"/>
<text x="242.80" y="148.75" font-size="7.3" fill="#3a3520" font-weight="normal" text-anchor="start" textLength="28.2" lengthAdjust="spacingAndGlyphs" >3/22/2019 8:14:0</text>
<text transform="translate(284.00,148.85) scale(0.68,1)" font-size="7.5" fill="#333a4a" font-weight="normal" text-anchor="middle" >3</text>
<text transform="translate(309.50,148.85) scale(0.68,1)" font-size="7.5" fill="#333a4a" font-weight="normal" text-anchor="middle" >4</text>
<text transform="translate(334.80,148.85) scale(0.68,1)" font-size="7.5" fill="#333a4a" font-weight="normal" text-anchor="middle" >4</text>
<text transform="translate(361.50,148.85) scale(0.68,1)" font-size="7.5" fill="#333a4a" font-weight="normal" text-anchor="middle" >5</text>
<text transform="translate(387.50,148.85) scale(0.68,1)" font-size="7.5" fill="#333a4a" font-weight="normal" text-anchor="middle" >4</text>
<circle cx="292.6" cy="143.65" r="0.4" fill="#667" opacity="0.6"/>
<circle cx="292.6" cy="147.65" r="0.4" fill="#667" opacity="0.6"/>
<circle cx="343.5" cy="143.65" r="0.4" fill="#667" opacity="0.6"/>
<circle cx="343.5" cy="147.65" r="0.4" fill="#667" opacity="0.6"/>
<circle cx="390.5" cy="143.65" r="0.4" fill="#667" opacity="0.6"/>
<circle cx="390.5" cy="147.65" r="0.4" fill="#667" opacity="0.6"/>
<text x="242.80" y="159.20" font-size="7.3" fill="#3a3520" font-weight="normal" text-anchor="start" textLength="28.2" lengthAdjust="spacingAndGlyphs" >3/22/2019 8:14:4</text>
<text transform="translate(284.00,159.30) scale(0.68,1)" font-size="7.5" fill="#333a4a" font-weight="normal" text-anchor="middle" >4</text>
<text transform="translate(309.50,159.30) scale(0.68,1)" font-size="7.5" fill="#333a4a" font-weight="normal" text-anchor="middle" >6</text>
<text transform="translate(334.80,159.30) scale(0.68,1)" font-size="7.5" fill="#333a4a" font-weight="normal" text-anchor="middle" >8</text>
<text transform="translate(361.50,159.30) scale(0.68,1)" font-size="7.5" fill="#333a4a" font-weight="normal" text-anchor="middle" >7</text>
<text transform="translate(387.50,159.30) scale(0.68,1)" font-size="7.5" fill="#333a4a" font-weight="normal" text-anchor="middle" >6</text>
<text transform="translate(412.50,159.30) scale(0.68,1)" font-size="7.5" fill="#333a4a" font-weight="normal" text-anchor="middle" >6</text>
<circle cx="292.6" cy="154.10" r="0.4" fill="#667" opacity="0.6"/>
<circle cx="292.6" cy="158.10" r="0.4" fill="#667" opacity="0.6"/>
<circle cx="343.5" cy="154.10" r="0.4" fill="#667" opacity="0.6"/>
<circle cx="343.5" cy="158.10" r="0.4" fill="#667" opacity="0.6"/>
<circle cx="390.5" cy="154.10" r="0.4" fill="#667" opacity="0.6"/>
<circle cx="390.5" cy="158.10" r="0.4" fill="#667" opacity="0.6"/>
<text x="242.80" y="169.65" font-size="7.3" fill="#3a3520" font-weight="normal" text-anchor="start" textLength="28.2" lengthAdjust="spacingAndGlyphs" >3/22/2019 8:16:5</text>
<text transform="translate(284.00,169.75) scale(0.68,1)" font-size="7.5" fill="#333a4a" font-weight="normal" text-anchor="middle" >5</text>
<text transform="translate(309.50,169.75) scale(0.68,1)" font-size="7.5" fill="#333a4a" font-weight="normal" text-anchor="middle" >5</text>
<text transform="translate(334.80,169.75) scale(0.68,1)" font-size="7.5" fill="#333a4a" font-weight="normal" text-anchor="middle" >5</text>
<text transform="translate(361.50,169.75) scale(0.68,1)" font-size="7.5" fill="#333a4a" font-weight="normal" text-anchor="middle" >5</text>
<text transform="translate(387.50,169.75) scale(0.68,1)" font-size="7.5" fill="#333a4a" font-weight="normal" text-anchor="middle" >5</text>
<text transform="translate(412.50,169.75) scale(0.68,1)" font-size="7.5" fill="#333a4a" font-weight="normal" text-anchor="middle" >5</text>
<circle cx="292.6" cy="164.55" r="0.4" fill="#667" opacity="0.6"/>
<circle cx="292.6" cy="168.55" r="0.4" fill="#667" opacity="0.6"/>
<circle cx="343.5" cy="164.55" r="0.4" fill="#667" opacity="0.6"/>
<circle cx="343.5" cy="168.55" r="0.4" fill="#667" opacity="0.6"/>
<circle cx="390.5" cy="164.55" r="0.4" fill="#667" opacity="0.6"/>
<circle cx="390.5" cy="168.55" r="0.4" fill="#667" opacity="0.6"/>
<text x="242.80" y="180.10" font-size="7.3" fill="#3a3520" font-weight="normal" text-anchor="start" textLength="28.2" lengthAdjust="spacingAndGlyphs" >3/22/2019 9:50:2</text>
<text transform="translate(284.00,180.20) scale(0.68,1)" font-size="7.5" fill="#333a4a" font-weight="normal" text-anchor="middle" >9</text>
<text transform="translate(309.50,180.20) scale(0.68,1)" font-size="7.5" fill="#333a4a" font-weight="normal" text-anchor="middle" >9</text>
<text transform="translate(334.80,180.20) scale(0.68,1)" font-size="7.5" fill="#333a4a" font-weight="normal" text-anchor="middle" >9</text>
<text transform="translate(361.50,180.20) scale(0.68,1)" font-size="7.5" fill="#333a4a" font-weight="normal" text-anchor="middle" >9</text>
<text transform="translate(387.50,180.20) scale(0.68,1)" font-size="7.5" fill="#333a4a" font-weight="normal" text-anchor="middle" >9</text>
<text transform="translate(412.50,180.20) scale(0.68,1)" font-size="7.5" fill="#333a4a" font-weight="normal" text-anchor="middle" >9</text>
<circle cx="292.6" cy="175.00" r="0.4" fill="#667" opacity="0.6"/>
<circle cx="292.6" cy="179.00" r="0.4" fill="#667" opacity="0.6"/>
<circle cx="343.5" cy="175.00" r="0.4" fill="#667" opacity="0.6"/>
<circle cx="343.5" cy="179.00" r="0.4" fill="#667" opacity="0.6"/>
<circle cx="390.5" cy="175.00" r="0.4" fill="#667" opacity="0.6"/>
<circle cx="390.5" cy="179.00" r="0.4" fill="#667" opacity="0.6"/>
</g>
<rect x="336" y="300" width="188.10000000000002" height="128.7" fill="#3a4050" opacity="0.24" filter="url(#sh)"/>
<rect x="174.40" y="184.40" width="346.20" height="240.80" fill="#ffffff" stroke="#17306f" stroke-width="1.3"/>
<g filter="url(#b3)">
<rect x="227.10" y="192.20" width="6.80" height="8.80" fill="#3366cc" rx="0.8"/>
<text transform="translate(238.90,199.70) scale(0.695,1)" font-size="9.8" fill="#626262" font-weight="normal" text-anchor="start" >ETQ Initial Assesment</text>
<rect x="315.20" y="195.30" width="7.00" height="2.30" fill="#7faaf5" rx="1.1"/>
<text transform="translate(327.20,199.70) scale(0.695,1)" font-size="9.8" fill="#626262" font-weight="normal" text-anchor="start" >Trendline for ETQ Initial Assesment R² = 0.271</text>
<rect x="225.60" y="204.60" width="6.80" height="8.80" fill="#dc3912" rx="0.8"/>
<text transform="translate(237.20,212.00) scale(0.695,1)" font-size="9.8" fill="#626262" font-weight="normal" text-anchor="start" >ETQ - After Six Months</text>
<rect x="315.20" y="207.60" width="7.00" height="2.30" fill="#e67c7c" rx="1.1"/>
<text transform="translate(327.20,212.00) scale(0.695,1)" font-size="9.8" fill="#626262" font-weight="normal" text-anchor="start" >Trendline for ETQ - After Six Months R² = 0.083</text>
<rect x="310.50" y="217.00" width="6.90" height="9.00" fill="#ff9900" rx="0.8"/>
<text transform="translate(322.20,224.30) scale(0.677,1)" font-size="9.8" fill="#626262" font-weight="normal" text-anchor="start" >ETQ - After One Year</text>
<line x1="222.50" y1="240.35" x2="509.50" y2="240.35" stroke="#d0d0d0" stroke-width="0.9" />
<text transform="translate(214.60,243.65) scale(0.76,1)" font-size="9.8" fill="#8a8a8a" font-weight="normal" text-anchor="end" >8</text>
<line x1="222.50" y1="277.95" x2="509.50" y2="277.95" stroke="#d0d0d0" stroke-width="0.9" />
<text transform="translate(214.60,281.25) scale(0.76,1)" font-size="9.8" fill="#8a8a8a" font-weight="normal" text-anchor="end" >6</text>
<line x1="222.50" y1="315.55" x2="509.50" y2="315.55" stroke="#d0d0d0" stroke-width="0.9" />
<text transform="translate(214.60,318.85) scale(0.76,1)" font-size="9.8" fill="#8a8a8a" font-weight="normal" text-anchor="end" >4</text>
<line x1="222.50" y1="353.15" x2="509.50" y2="353.15" stroke="#d0d0d0" stroke-width="0.9" />
<text transform="translate(214.60,356.45) scale(0.76,1)" font-size="9.8" fill="#8a8a8a" font-weight="normal" text-anchor="end" >2</text>
<text transform="translate(214.60,394.05) scale(0.76,1)" font-size="9.8" fill="#8a8a8a" font-weight="normal" text-anchor="end" >0</text>
<polygon points="222.5,390.75 509.5,390.75 505.5,396.35 218.5,396.35" fill="#ececec"/>
<line x1="222.50" y1="390.75" x2="509.50" y2="390.75" stroke="#555" stroke-width="1.0" />
<text transform="translate(191.6,321) rotate(-90)" font-size="7.2" font-weight="bold" fill="#222" text-anchor="middle" textLength="88" lengthAdjust="spacingAndGlyphs">Levels of ET Quotient</text>
<polygon points="247.40,350.89 249.90,347.69 249.90,390.75 247.40,393.95" fill="#2450a8"/>
<polygon points="235.40,350.89 237.90,347.69 249.90,347.69 247.40,350.89" fill="#5b85d9"/>
<polygon points="259.40,298.48 261.90,295.28 261.90,390.75 259.40,393.95" fill="#a82a0c"/>
<polygon points="247.40,298.48 249.90,295.28 261.90,295.28 259.40,298.48" fill="#e55a38"/>
<polygon points="271.40,262.91 273.90,259.71 273.90,390.75 271.40,393.95" fill="#b36b00"/>
<polygon points="259.40,262.91 261.90,259.71 273.90,259.71 271.40,262.91" fill="#ffad33"/>
<rect x="235.40" y="350.89" width="12.00" height="43.06" fill="#3366cc" />
<rect x="247.40" y="298.48" width="12.00" height="95.47" fill="#dc3912" />
<rect x="259.40" y="262.91" width="12.00" height="131.04" fill="#ff9900" />
<text transform="translate(252.90,408.60) scale(0.725,1)" font-size="9.2" fill="#222" font-weight="bold" text-anchor="middle" >Clients</text>
<polygon points="301.95,281.63 304.45,278.43 304.45,390.75 301.95,393.95" fill="#2450a8"/>
<polygon points="289.95,281.63 292.45,278.43 304.45,278.43 301.95,281.63" fill="#5b85d9"/>
<polygon points="313.95,277.89 316.45,274.69 316.45,390.75 313.95,393.95" fill="#a82a0c"/>
<polygon points="301.95,277.89 304.45,274.69 316.45,274.69 313.95,277.89" fill="#e55a38"/>
<polygon points="325.95,266.65 328.45,263.45 328.45,390.75 325.95,393.95" fill="#b36b00"/>
<polygon points="313.95,266.65 316.45,263.45 328.45,263.45 325.95,266.65" fill="#ffad33"/>
<rect x="289.95" y="281.63" width="12.00" height="112.32" fill="#3366cc" />
<rect x="301.95" y="277.89" width="12.00" height="116.06" fill="#dc3912" />
<rect x="313.95" y="266.65" width="12.00" height="127.30" fill="#ff9900" />
<text transform="translate(307.45,408.60) scale(0.725,1)" font-size="9.2" fill="#222" font-weight="bold" text-anchor="middle" >Advisors</text>
<polygon points="356.50,354.64 359.00,351.44 359.00,390.75 356.50,393.95" fill="#2450a8"/>
<polygon points="344.50,354.64 347.00,351.44 359.00,351.44 356.50,354.64" fill="#5b85d9"/>
<polygon points="368.50,334.05 371.00,330.85 371.00,390.75 368.50,393.95" fill="#a82a0c"/>
<polygon points="356.50,334.05 359.00,330.85 371.00,330.85 368.50,334.05" fill="#e55a38"/>
<polygon points="380.50,304.09 383.00,300.89 383.00,390.75 380.50,393.95" fill="#b36b00"/>
<polygon points="368.50,304.09 371.00,300.89 383.00,300.89 380.50,304.09" fill="#ffad33"/>
<rect x="344.50" y="354.64" width="12.00" height="39.31" fill="#3366cc" />
<rect x="356.50" y="334.05" width="12.00" height="59.90" fill="#dc3912" />
<rect x="368.50" y="304.09" width="12.00" height="89.86" fill="#ff9900" />
<text transform="translate(362.00,408.60) scale(0.725,1)" font-size="9.2" fill="#222" font-weight="bold" text-anchor="middle" >Team Members</text>
<polygon points="411.05,300.35 413.55,297.15 413.55,390.75 411.05,393.95" fill="#2450a8"/>
<polygon points="399.05,300.35 401.55,297.15 413.55,297.15 411.05,300.35" fill="#5b85d9"/>
<polygon points="423.05,294.73 425.55,291.53 425.55,390.75 423.05,393.95" fill="#a82a0c"/>
<polygon points="411.05,294.73 413.55,291.53 425.55,291.53 423.05,294.73" fill="#e55a38"/>
<polygon points="435.05,287.25 437.55,284.05 437.55,390.75 435.05,393.95" fill="#b36b00"/>
<polygon points="423.05,287.25 425.55,284.05 437.55,284.05 435.05,287.25" fill="#ffad33"/>
<rect x="399.05" y="300.35" width="12.00" height="93.60" fill="#3366cc" />
<rect x="411.05" y="294.73" width="12.00" height="99.22" fill="#dc3912" />
<rect x="423.05" y="287.25" width="12.00" height="106.70" fill="#ff9900" />
<text transform="translate(416.55,408.60) scale(0.725,1)" font-size="9.2" fill="#222" font-weight="bold" text-anchor="middle" >Office Manager</text>
<polygon points="465.60,281.63 468.10,278.43 468.10,390.75 465.60,393.95" fill="#2450a8"/>
<polygon points="453.60,281.63 456.10,278.43 468.10,278.43 465.60,281.63" fill="#5b85d9"/>
<polygon points="477.60,266.65 480.10,263.45 480.10,390.75 477.60,393.95" fill="#a82a0c"/>
<polygon points="465.60,266.65 468.10,263.45 480.10,263.45 477.60,266.65" fill="#e55a38"/>
<polygon points="489.60,259.17 492.10,255.97 492.10,390.75 489.60,393.95" fill="#b36b00"/>
<polygon points="477.60,259.17 480.10,255.97 492.10,255.97 489.60,259.17" fill="#ffad33"/>
<rect x="453.60" y="281.63" width="12.00" height="112.32" fill="#3366cc" />
<rect x="465.60" y="266.65" width="12.00" height="127.30" fill="#dc3912" />
<rect x="477.60" y="259.17" width="12.00" height="134.78" fill="#ff9900" />
<text transform="translate(471.10,408.60) scale(0.725,1)" font-size="9.2" fill="#222" font-weight="bold" text-anchor="middle" >District Manager</text>
<line x1="217.8" y1="342.2" x2="509.8" y2="277.2" stroke="#7baaf7" stroke-width="1.5" opacity="0.9"/>
<line x1="217.8" y1="304.0" x2="509.8" y2="277.4" stroke="#e8716b" stroke-width="1.5" opacity="0.9"/>
<line x1="217.8" y1="269.3" x2="509.8" y2="276.3" stroke="#f7cb4d" stroke-width="1.5" opacity="0.9"/>
<text transform="translate(241.40,363.09) scale(0.63,1)" font-size="11" fill="#fff" font-weight="bold" text-anchor="middle" >2.3</text>
<text transform="translate(253.40,310.68) scale(0.63,1)" font-size="11" fill="#fff" font-weight="bold" text-anchor="middle" >5.1</text>
<text transform="translate(265.40,275.11) scale(0.63,1)" font-size="11" fill="#111" font-weight="bold" text-anchor="middle" >7</text>
<text transform="translate(295.95,293.83) scale(0.63,1)" font-size="11" fill="#fff" font-weight="bold" text-anchor="middle" >6</text>
<text transform="translate(307.95,290.09) scale(0.63,1)" font-size="11" fill="#fff" font-weight="bold" text-anchor="middle" >6.2</text>
<text transform="translate(319.95,278.85) scale(0.63,1)" font-size="11" fill="#111" font-weight="bold" text-anchor="middle" >6.8</text>
<text transform="translate(350.50,366.84) scale(0.63,1)" font-size="11" fill="#fff" font-weight="bold" text-anchor="middle" >2.1</text>
<text transform="translate(362.50,346.25) scale(0.63,1)" font-size="11" fill="#fff" font-weight="bold" text-anchor="middle" >3.2</text>
<text transform="translate(374.50,316.29) scale(0.63,1)" font-size="11" fill="#111" font-weight="bold" text-anchor="middle" >4.8</text>
<text transform="translate(405.05,312.55) scale(0.63,1)" font-size="11" fill="#fff" font-weight="bold" text-anchor="middle" >5</text>
<text transform="translate(417.05,306.93) scale(0.63,1)" font-size="11" fill="#fff" font-weight="bold" text-anchor="middle" >5.3</text>
<text transform="translate(429.05,299.45) scale(0.63,1)" font-size="11" fill="#111" font-weight="bold" text-anchor="middle" >5.7</text>
<text transform="translate(459.60,293.83) scale(0.63,1)" font-size="11" fill="#fff" font-weight="bold" text-anchor="middle" >6</text>
<text transform="translate(471.60,278.85) scale(0.63,1)" font-size="11" fill="#fff" font-weight="bold" text-anchor="middle" >6.8</text>
<text transform="translate(483.60,271.37) scale(0.63,1)" font-size="11" fill="#111" font-weight="bold" text-anchor="middle" >7.2</text>
</g>
<rect x="579.40" y="11.50" width="353.20" height="234.70" fill="#ffffff" stroke="#17306f" stroke-width="1.3"/>
<g filter="url(#b3)">
<text x="586.6" y="29.5" font-size="17" font-weight="bold" fill="#0c0c0c" stroke="#0c0c0c" stroke-width="0.45" textLength="166" lengthAdjust="spacingAndGlyphs">Optimizing Trust</text>
<text x="586.6" y="47.2" font-size="17" font-weight="bold" fill="#0c0c0c" stroke="#0c0c0c" stroke-width="0.45" textLength="247" lengthAdjust="spacingAndGlyphs">amongst Stakeholders</text>
</g>
<g filter="url(#b7)">
<text x="593.2" y="70.9" font-size="10.2" font-weight="bold" fill="#000" stroke="#000" stroke-width="0.8" textLength="79.6" lengthAdjust="spacingAndGlyphs">1 yr Assessment</text>
</g>
<g filter="url(#b5)">
<line x1="593.20" y1="101.40" x2="708.10" y2="101.40" stroke="#8f8f8f" stroke-width="1.6" />
<line x1="593.20" y1="187.70" x2="690.40" y2="187.70" stroke="#8f8f8f" stroke-width="1.9" />
<polyline points="593.2,223.8 690,223.8 710.5,223.4 750.6,230.6" fill="none" stroke="#8f8f8f" stroke-width="1.8"/>
<line x1="805.60" y1="100.60" x2="922.80" y2="100.60" stroke="#8f8f8f" stroke-width="1.5" />
<line x1="822.50" y1="191.80" x2="922.80" y2="191.80" stroke="#8f8f8f" stroke-width="1.6" />
<path d="M757.9,156.5 L757.90,79.80 A79.20,76.7 0 0 1 835.88,143.08 Z" fill="#3366cc" stroke="#2b2b2b" stroke-width="0.9" stroke-linejoin="round"/>
<path d="M757.9,156.5 L835.88,143.08 A79.20,76.7 0 0 1 787.98,227.45 Z" fill="#dc3912" stroke="#2b2b2b" stroke-width="0.9" stroke-linejoin="round"/>
<path d="M757.9,156.5 L787.98,227.45 A79.20,76.7 0 0 1 715.46,221.26 Z" fill="#ff9900" stroke="#2b2b2b" stroke-width="0.9" stroke-linejoin="round"/>
<path d="M757.9,156.5 L715.46,221.26 A79.20,76.7 0 0 1 679.39,146.41 Z" fill="#109618" stroke="#2b2b2b" stroke-width="0.9" stroke-linejoin="round"/>
<path d="M757.9,156.5 L679.39,146.41 A79.20,76.7 0 0 1 757.90,79.80 Z" fill="#990099" stroke="#2b2b2b" stroke-width="0.9" stroke-linejoin="round"/>
<circle cx="708.1" cy="101.4" r="1.1" fill="#aaa"/>
<circle cx="690.4" cy="187.7" r="1.1" fill="#aaa"/>
<circle cx="750.6" cy="230.6" r="1.1" fill="#aaa"/>
<circle cx="805.6" cy="100.6" r="1.1" fill="#aaa"/>
<circle cx="822.5" cy="191.8" r="1.1" fill="#aaa"/>
<text x="791.3" y="121.6" font-size="10" fill="#fff" stroke="#fff" stroke-width="0.25" text-anchor="middle" textLength="32.6" lengthAdjust="spacingAndGlyphs">Clients</text>
<text x="799.1" y="183.6" font-size="10" fill="#fff" stroke="#fff" stroke-width="0.25" text-anchor="middle" textLength="40.5" lengthAdjust="spacingAndGlyphs">Advisors</text>
<text x="752.7" y="220.8" font-size="10" fill="#3a2a00" text-anchor="middle" textLength="25.5" lengthAdjust="spacingAndGlyphs">Team</text>
<rect x="752.00" y="233.00" width="10.00" height="1.60" fill="#222" />
</g>
<g filter="url(#b7)">
<text x="593.2" y="99.3" font-size="9.8" font-weight="bold" fill="#1515f2" stroke="#1515f2" stroke-width="0.6" text-anchor="start" textLength="52.3" lengthAdjust="spacingAndGlyphs">District Mgrs</text>
<text x="593.2" y="110.2" font-size="8.3" fill="#8a8a8a" stroke="#8a8a8a" stroke-width="0.3" text-anchor="start" textLength="24.6" lengthAdjust="spacingAndGlyphs">22.9%</text>
<text x="593.2" y="185.5" font-size="9.8" font-weight="bold" fill="#1515f2" stroke="#1515f2" stroke-width="0.6" text-anchor="start" textLength="47.6" lengthAdjust="spacingAndGlyphs">Office Mgrs</text>
<text x="593.2" y="196.0" font-size="8.3" fill="#8a8a8a" stroke="#8a8a8a" stroke-width="0.3" text-anchor="start" textLength="24.6" lengthAdjust="spacingAndGlyphs">18.1%</text>
<text x="593.2" y="221.0" font-size="9.8" font-weight="bold" fill="#1515f2" stroke="#1515f2" stroke-width="0.6" text-anchor="start" textLength="21.7" lengthAdjust="spacingAndGlyphs">Team</text>
<text x="593.2" y="231.6" font-size="8.3" fill="#8a8a8a" stroke="#8a8a8a" stroke-width="0.3" text-anchor="start" textLength="24.6" lengthAdjust="spacingAndGlyphs">15.2%</text>
<text x="922.8" y="98.0" font-size="9.8" font-weight="bold" fill="#1515f2" stroke="#1515f2" stroke-width="0.6" text-anchor="end" textLength="28.3" lengthAdjust="spacingAndGlyphs">Clients</text>
<text x="922.8" y="109.2" font-size="8.3" fill="#8a8a8a" stroke="#8a8a8a" stroke-width="0.3" text-anchor="end" textLength="24.6" lengthAdjust="spacingAndGlyphs">22.2%</text>
<text x="922.8" y="189.4" font-size="9.8" font-weight="bold" fill="#1515f2" stroke="#1515f2" stroke-width="0.6" text-anchor="end" textLength="35.9" lengthAdjust="spacingAndGlyphs">Advisors</text>
<text x="922.8" y="200.3" font-size="8.3" fill="#8a8a8a" stroke="#8a8a8a" stroke-width="0.3" text-anchor="end" textLength="24.6" lengthAdjust="spacingAndGlyphs">21.6%</text>
</g>
<linearGradient id="ag" gradientUnits="userSpaceOnUse" x1="713.2" y1="435.3" x2="750.7" y2="282.2"><stop offset="0" stop-color="#e40d1c"/><stop offset="0.12" stop-color="#d6101c"/><stop offset="0.25" stop-color="#ae151b"/><stop offset="0.35" stop-color="#76211a"/><stop offset="0.44" stop-color="#4c3118"/><stop offset="0.56" stop-color="#1f471b"/><stop offset="0.70" stop-color="#0c541d"/><stop offset="1" stop-color="#0a5c1f"/></linearGradient>
<g transform="translate(1.3,2.0)" filter="url(#ash)" opacity="0.92">
<path d="M530.3,438.5 L770.8,291.6 L764,288.9 L801.8,280.5 L805.2,295.6 L795,294.3 L551,443.7 Z" fill="#363636"/>
<path d="M586.2,405.1 L594.3,382.9 L799.1,315.5 L801.8,308.8 L814.6,314.2 L795,331.7 L793,326.3 L603.7,388.6 L602.1,395.3 L600,401 Z" fill="#363636"/>
<path d="M743.1,308.8 L689.5,302.4 L716.5,289.5 L678.8,279.4 L680.1,276.7 L658.5,277.4 L665.3,285.5 L669.3,284.2 L692.2,290.2 L668,300.3 L650.4,297.6 L654.5,292.9 L616.7,301.7 L620.1,315.8 L627.5,310.4 L722.2,320.9 L735,316 Z" fill="#363636"/>
<path d="M636,390.3 L700.2,376.8 Q704.6,375.9 705.8,379.4 L717.2,420 L771,410.4 L768.5,400.2 L817,404 L774.9,429.4 L772.7,421.5 L709.5,432.7 Q704.2,433.4 702.9,429.4 L693.1,388.4 L609.1,407.8 L622,398 Z" fill="#363636"/>
</g>
<clipPath id="cS"><path d="M586.2,405.1 L594.3,382.9 L799.1,315.5 L801.8,308.8 L814.6,314.2 L795,331.7 L793,326.3 L603.7,388.6 L602.1,395.3 L600,401 Z"/><path d="M743.1,308.8 L689.5,302.4 L716.5,289.5 L678.8,279.4 L680.1,276.7 L658.5,277.4 L665.3,285.5 L669.3,284.2 L692.2,290.2 L668,300.3 L650.4,297.6 L654.5,292.9 L616.7,301.7 L620.1,315.8 L627.5,310.4 L722.2,320.9 L735,316 Z"/></clipPath>
<g filter="url(#b3)">
<path d="M586.2,405.1 L594.3,382.9 L799.1,315.5 L801.8,308.8 L814.6,314.2 L795,331.7 L793,326.3 L603.7,388.6 L602.1,395.3 L600,401 Z" fill="url(#ag)"/>
<path d="M743.1,308.8 L689.5,302.4 L716.5,289.5 L678.8,279.4 L680.1,276.7 L658.5,277.4 L665.3,285.5 L669.3,284.2 L692.2,290.2 L668,300.3 L650.4,297.6 L654.5,292.9 L616.7,301.7 L620.1,315.8 L627.5,310.4 L722.2,320.9 L735,316 Z" fill="url(#ag)"/>
<path d="M636,390.3 L700.2,376.8 Q704.6,375.9 705.8,379.4 L717.2,420 L771,410.4 L768.5,400.2 L817,404 L774.9,429.4 L772.7,421.5 L709.5,432.7 Q704.2,433.4 702.9,429.4 L693.1,388.4 L609.1,407.8 L622,398 Z" fill="url(#ag)"/>
</g>
<g clip-path="url(#cS)"><path d="M530.3,438.5 L770.8,291.6 L764,288.9 L801.8,280.5 L805.2,295.6 L795,294.3 L551,443.7 Z" transform="translate(1.3,2.0)" fill="#141414" opacity="0.32" filter="url(#ash)"/></g>
<g filter="url(#b3)">
<path d="M530.3,438.5 L770.8,291.6 L764,288.9 L801.8,280.5 L805.2,295.6 L795,294.3 L551,443.7 Z" fill="url(#ag)"/>
</g>
<clipPath id="cH"><path d="M603.4,388.8 L622.6,382.7 L602.0,395.5 Z"/></clipPath>
<path d="M603.4,388.8 L622.6,382.7 L602.0,395.5 Z" fill="#ffffff" filter="url(#b3)"/>
<g clip-path="url(#cH)"><path d="M586.2,405.1 L594.3,382.9 L799.1,315.5 L801.8,308.8 L814.6,314.2 L795,331.7 L793,326.3 L603.7,388.6 L602.1,395.3 L600,401 Z" transform="translate(0.8,1.1)" fill="#2e2e2e" opacity="0.75" filter="url(#ash)"/></g>
</svg>
</body></html>
